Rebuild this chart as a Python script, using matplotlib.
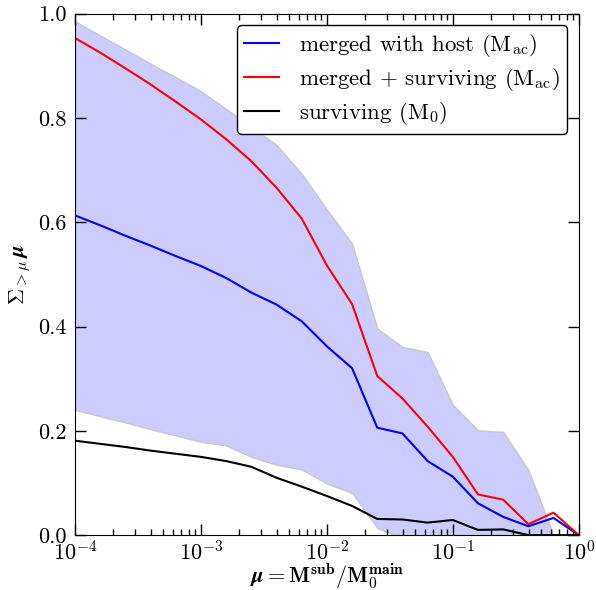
import matplotlib
matplotlib.use('Agg')
import matplotlib.pyplot as plt
import numpy as np

plt.rcParams['font.family'] = 'serif'
plt.rcParams['font.serif'] = ['cmr10', 'DejaVu Serif']
plt.rcParams['mathtext.fontset'] = 'cm'
plt.rcParams['axes.formatter.use_mathtext'] = True
plt.rcParams['font.size'] = 14

# mass ratio bins (log10 mu)
logmu = [-4.0, -3.8, -3.6, -3.4, -3.2, -3.0, -2.8, -2.6, -2.4, -2.2, -2.0,
         -1.8, -1.6, -1.4, -1.2, -1.0, -0.8, -0.6, -0.4, -0.2, 0.0]

merged = [0.613, 0.594, 0.574, 0.555, 0.535, 0.516, 0.493, 0.465, 0.442, 0.410, 0.362,
          0.320, 0.206, 0.195, 0.142, 0.112, 0.061, 0.035, 0.017, 0.033, 0.0]
merged_surv = [0.953, 0.925, 0.895, 0.864, 0.831, 0.797, 0.759, 0.717, 0.666, 0.607, 0.517,
               0.443, 0.305, 0.262, 0.208, 0.150, 0.078, 0.068, 0.021, 0.043, 0.0]
surviving = [0.181, 0.175, 0.169, 0.162, 0.156, 0.150, 0.142, 0.131, 0.110, 0.093, 0.075,
             0.056, 0.031, 0.030, 0.024, 0.029, 0.010, 0.011, 0.0, 0.0, 0.0]
band_hi = [0.985, 0.958, 0.931, 0.904, 0.878, 0.851, 0.817, 0.783, 0.748, 0.693, 0.624,
           0.559, 0.396, 0.361, 0.351, 0.250, 0.201, 0.198, 0.125, 0.0, 0.0]
band_lo = [0.240, 0.228, 0.216, 0.203, 0.191, 0.179, 0.172, 0.150, 0.135, 0.126, 0.099,
           0.081, 0.014, -0.006, -0.02, -0.02, -0.02, -0.02, -0.02, -0.02, -0.02]

mu = 10 ** np.array(logmu)

fig = plt.figure(figsize=(5.96, 5.90), dpi=100)
ax = fig.add_axes([0.126, 0.093, 0.845, 0.884])

ax.fill_between(mu, band_lo, band_hi, facecolor='#ccccff', edgecolor='#c8c8c8', lw=1)
ax.plot(mu, merged, color='blue', lw=1.5, label=r'merged with host ($\mathrm{M_{ac}}$)')
ax.plot(mu, merged_surv, color='red', lw=1.5, label=r'merged + surviving ($\mathrm{M_{ac}}$)')
ax.plot(mu, surviving, color='black', lw=1.5, label=r'surviving ($\mathrm{M_0}$)')

ax.set_xscale('log')
ax.set_xlim(1e-4, 1)
ax.set_ylim(0, 1)
ax.set_yticks([0, 0.2, 0.4, 0.6, 0.8, 1.0])
ax.set_yticklabels(['0.0', '0.2', '0.4', '0.6', '0.8', '1.0'])
ax.tick_params(which='both', direction='in', top=True, right=True, labelsize=16)
ax.tick_params(axis='x', pad=4)
ax.tick_params(axis='y', pad=6)
ax.tick_params(which='major', length=8, width=1)
ax.tick_params(which='minor', length=4, width=1)

ax.set_xlabel(r'$\boldsymbol{\mu} = \mathbf{M^{sub}/M_0^{main}}$', fontsize=16, labelpad=-2)
ax.set_ylabel(r'$\Sigma_{>\mu}\, \boldsymbol{\mu}$', fontsize=16, labelpad=4)

leg = ax.legend(loc='upper right', fontsize=16.5, handlelength=1.5, labelspacing=0.3,
                handletextpad=0.9, fancybox=True, framealpha=1, edgecolor='black',
                borderaxespad=0.5, borderpad=0.3)
leg.get_frame().set_linewidth(1)

plt.savefig('out.png')
